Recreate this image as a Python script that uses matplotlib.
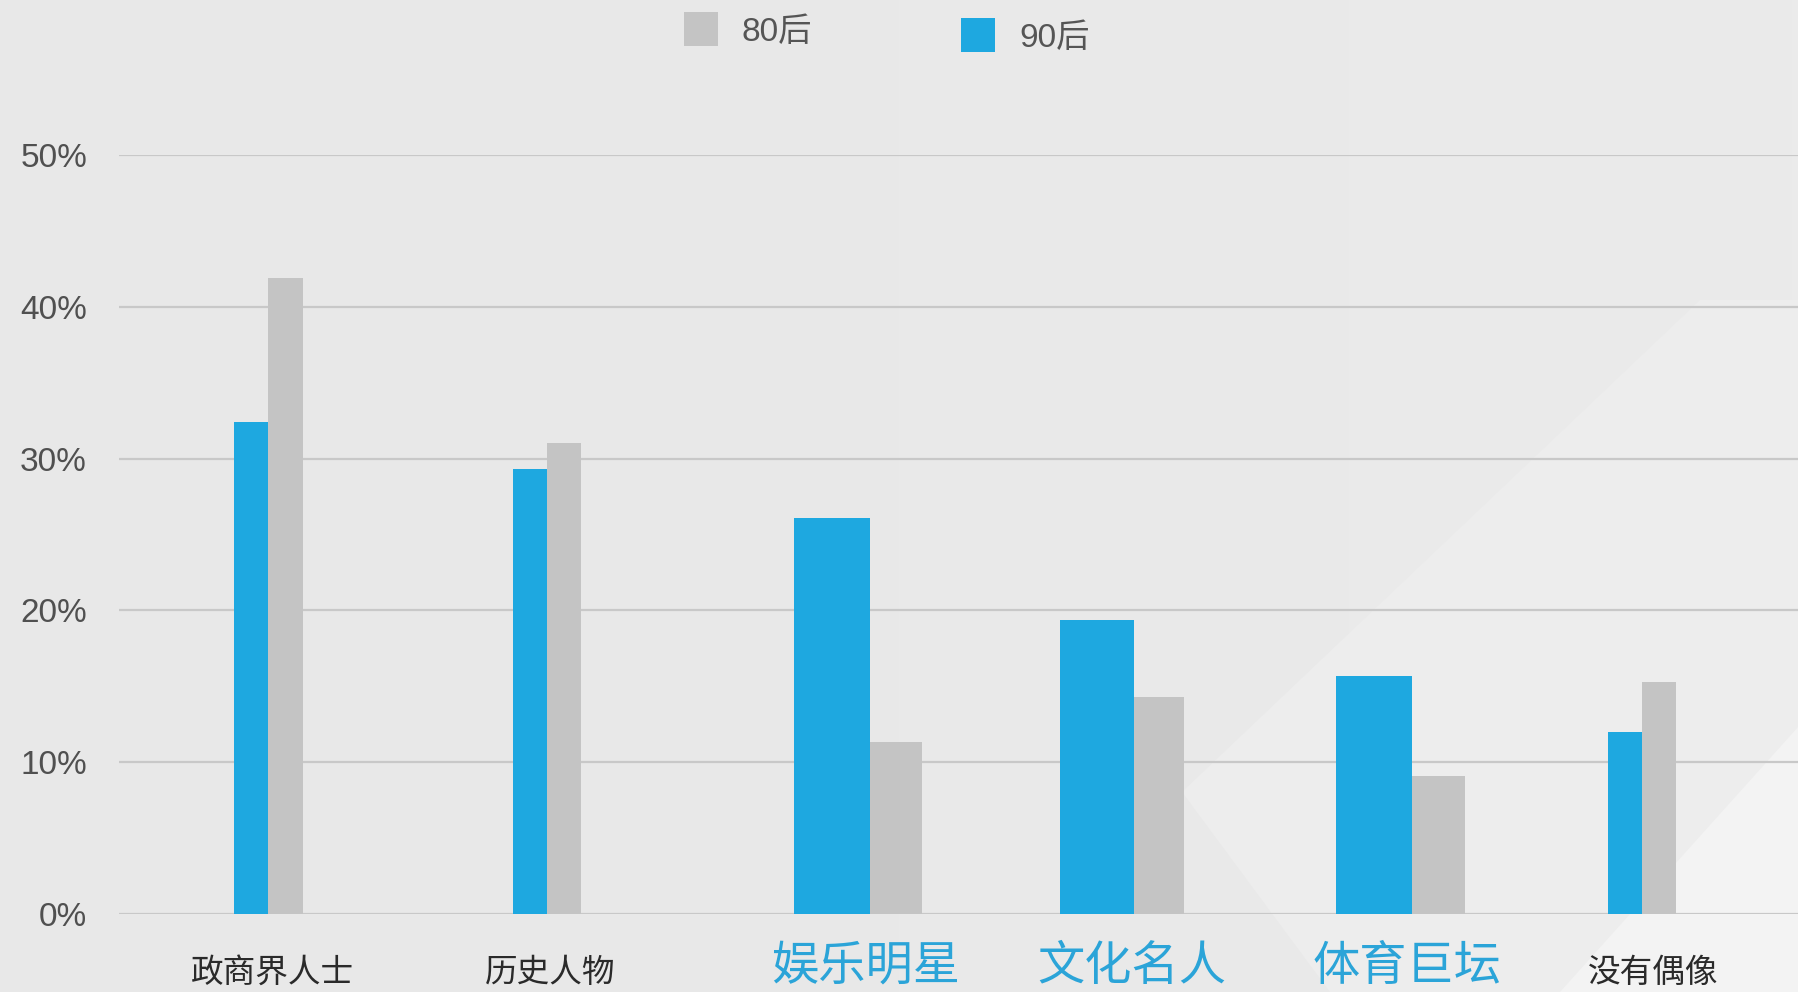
import matplotlib
matplotlib.use("Agg")
import matplotlib.pyplot as plt
import numpy as np
from matplotlib.patches import Polygon, Rectangle

plt.rcParams['font.family'] = ['Noto Sans CJK SC', 'DejaVu Sans']
LATIN = ['Liberation Sans', 'Noto Sans CJK SC']

# data (percent)
categories = ["政商界人士", "历史人物", "娱乐明星", "文化名人", "体育巨坛", "没有偶像"]
series_names = ["80后", "90后"]
vals_80 = [41.9, 31.0, 11.3, 14.3, 9.1, 15.3]
vals_90 = [32.4, 29.3, 26.1, 19.4, 15.7, 12.0]
y_ticks = [0, 10, 20, 30, 40, 50]
y_labels = ["0%", "10%", "20%", "30%", "40%", "50%"]

# style: group offsets and bar widths (the original uses uneven spacing)
shift = [0.0, 0.015, 0.189, 0.150, 0.165, 0.0]
label_shift = [0.017, 0.013, -0.013, -0.008, -0.021, 0.042]
w_90 = [0.125, 0.125, 0.276, 0.268, 0.280, 0.125]
w_80 = [0.125, 0.125, 0.192, 0.184, 0.192, 0.125]
highlight = [False, False, True, True, True, False]

BLUE = "#1ea8e0"
GRAY = "#c4c4c4"
W, H = 1799, 992

fig = plt.figure(figsize=(W / 100, H / 100), dpi=100)

# background with faint light shapes
bg = fig.add_axes([0, 0, 1, 1], zorder=-10)
grad = np.linspace(0, 1, 256)[None, :]
bg.imshow(grad, cmap=matplotlib.colors.LinearSegmentedColormap.from_list(
    "bg", ["#e8e8e8", "#e9e9e9", "#ebebeb"]), extent=[0, W, H, 0], aspect="auto")
bg.add_patch(Polygon([(1182, 792), (1330, H), (W, H), (W, 300), (1700, 300)],
                     closed=True, color="#ededed", lw=0))
bg.add_patch(Polygon([(1560, H), (W, H), (W, 726)], closed=True, color="#f3f3f3", lw=0))
bg.set_xlim(0, W)
bg.set_ylim(H, 0)
bg.axis("off")

ax = fig.add_axes([119 / W, 1 - 914 / H, 1 - 119 / W, (914 - 155) / H])
ax.set_facecolor("none")

x = np.arange(len(categories)) + np.array(shift)
ax.bar(x, vals_90, width=-np.array(w_90), align="edge", color=BLUE, zorder=3)
ax.bar(x, vals_80, width=np.array(w_80), align="edge", color=GRAY, zorder=3)

ax.set_xlim(-0.543, 5.572)
ax.set_ylim(0, 50)
ax.set_yticks(y_ticks)
ax.set_yticklabels(y_labels, family=LATIN)
ax.yaxis.grid(True, color="#c8c8c8", lw=1.6)
ax.set_axisbelow(True)
for s in ax.spines.values():
    s.set_visible(False)
ax.tick_params(axis="y", length=0, pad=23, labelsize=24, labelcolor="#505050")
ax.set_xticks([])

# category labels under the bars
for xi, dx, name, hl in zip(x, label_shift, categories, highlight):
    if hl:
        ax.annotate(name, (xi + dx, 0), xytext=(0, -38), textcoords="offset points",
                    ha="center", va="center", fontsize=34, color="#2ba4d8",
                    annotation_clip=False)
    else:
        ax.annotate(name, (xi + dx, 0), xytext=(0, -42.5), textcoords="offset points",
                    ha="center", va="center", fontsize=23.5, color="#2a2a2a",
                    fontweight="medium", annotation_clip=False)

# legend drawn by hand at the top
leg_colors = [GRAY, BLUE]
leg_box_x = [684, 961]
leg_box_y = [12, 18]
for name, c, bx, by in zip(series_names, leg_colors, leg_box_x, leg_box_y):
    fig.add_artist(Rectangle((bx / W, 1 - (by + 34) / H), 34 / W, 34 / H,
                             transform=fig.transFigure, color=c, lw=0))
    fig.text((bx + 58) / W, 1 - (by + 20) / H, name, fontsize=24, family=LATIN,
             color="#555555", va="center", ha="left")

fig.savefig("out.png", dpi=100)
